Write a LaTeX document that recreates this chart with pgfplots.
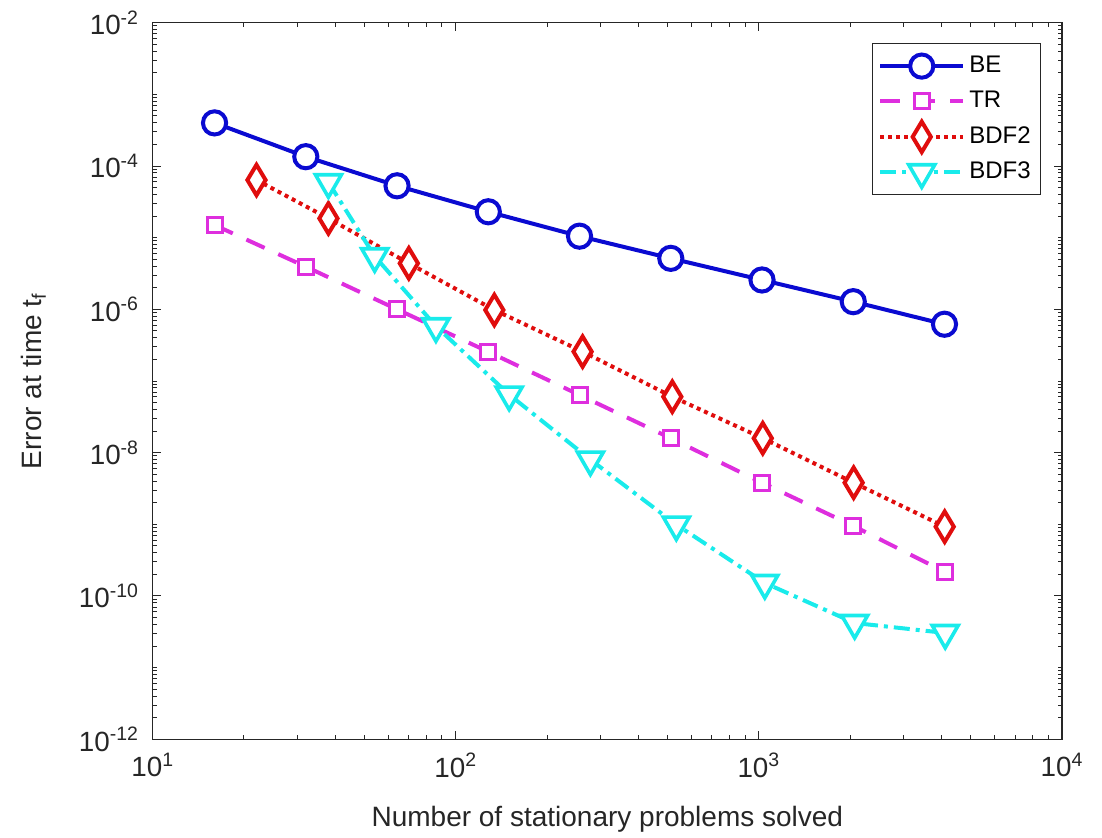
\documentclass[border=0pt]{standalone}
\usepackage{fontspec}
\setmainfont{Liberation Sans}
\usepackage{pgfplots}
\pgfplotsset{compat=1.18}
\definecolor{cBE}{rgb}{0.04,0.04,0.82}
\definecolor{cTR}{rgb}{0.87,0.18,0.87}
\definecolor{cBtwo}{rgb}{0.88,0.05,0.05}
\definecolor{cBthree}{rgb}{0.1,0.92,0.92}
\definecolor{axgray}{rgb}{0.15,0.15,0.15}
\begin{document}
\fontsize{13.9}{16}\selectfont
\begin{tikzpicture}
\begin{axis}[
  name=ax,
  scale only axis,
  width=454.65pt, height=358.3pt,
  xmode=log, ymode=log,
  log basis x=10, log basis y=10,
  xmin=10, xmax=10000, ymin=1e-12, ymax=1e-2,
  xtick={10,100,1000,10000},
  xticklabels={10\textsuperscript{1},10\textsuperscript{2},10\textsuperscript{3},10\textsuperscript{4}},
  ytick={1e-12,1e-10,1e-8,1e-6,1e-4,1e-2},
  yticklabels={10\textsuperscript{-12},10\textsuperscript{-10},10\textsuperscript{-8},10\textsuperscript{-6},10\textsuperscript{-4},10\textsuperscript{-2}},
  minor xtick={20,30,40,50,60,70,80,90,200,300,400,500,600,700,800,900,2000,3000,4000,5000,6000,7000,8000,9000},
  minor ytick={2e-12,3e-12,4e-12,5e-12,6e-12,7e-12,8e-12,9e-12,1e-11,2e-11,3e-11,4e-11,5e-11,6e-11,7e-11,8e-11,9e-11,
    2e-10,3e-10,4e-10,5e-10,6e-10,7e-10,8e-10,9e-10,1e-9,2e-9,3e-9,4e-9,5e-9,6e-9,7e-9,8e-9,9e-9,
    2e-8,3e-8,4e-8,5e-8,6e-8,7e-8,8e-8,9e-8,1e-7,2e-7,3e-7,4e-7,5e-7,6e-7,7e-7,8e-7,9e-7,
    2e-6,3e-6,4e-6,5e-6,6e-6,7e-6,8e-6,9e-6,1e-5,2e-5,3e-5,4e-5,5e-5,6e-5,7e-5,8e-5,9e-5,
    2e-4,3e-4,4e-4,5e-4,6e-4,7e-4,8e-4,9e-4,1e-3,2e-3,3e-3,4e-3,5e-3,6e-3,7e-3,8e-3,9e-3},
  tick align=inside,
  major tick length=4pt, minor tick length=2pt,
  every tick/.style={axgray, line width=0.5pt},
  axis line style={axgray, line width=0.6pt},
  ticklabel style={font=\fontsize{13.9}{16}\selectfont, text=axgray},
  xticklabel style={yshift=-2pt},
  yticklabel style={xshift=-2pt},
  xlabel={Number of stationary problems solved},
  ylabel={Error at time t\textsubscript{f}},
  xlabel style={at={(axis description cs:0.5,-0.112)}, anchor=center, font=\fontsize{14}{17}\selectfont, text=axgray},
  ylabel style={at={(axis description cs:-0.131,0.5)}, anchor=center, font=\fontsize{14}{17}\selectfont, text=axgray},
  legend style={at={(rel axis cs:0.977,0.971)}, anchor=north east, draw=axgray, line width=0.5pt,
    font=\fontsize{12}{14}\selectfont, inner xsep=3pt, inner ysep=2.2pt,
    nodes={text height=9pt, text depth=2.5pt, inner ysep=3.1pt}, row sep=0pt},
  legend cell align=left,
  legend image code/.code={\draw[mark repeat=2,mark phase=2] plot coordinates {(0pt,0pt)(20.75pt,0pt)(41.5pt,0pt)};},
]
\addplot[cBE, line width=2pt, mark=*, mark size=5.8pt, mark options={fill=white, solid, line width=2pt}]
  coordinates {(16,4.0e-4)(32,1.35e-4)(64,5.3e-5)(128,2.3e-5)(256,1.05e-5)(512,5.15e-6)(1024,2.57e-6)(2048,1.28e-6)(4096,6.2e-7)};
\addlegendentry{BE}
\addplot[cTR, line width=2pt, dash pattern=on 10pt off 7.5pt, mark=square*, mark size=3.75pt, mark options={fill=white, solid, line width=1.5pt}]
  coordinates {(16,1.5e-5)(32,3.94e-6)(64,1.0e-6)(128,2.56e-7)(256,6.38e-8)(512,1.59e-8)(1024,3.81e-9)(2048,9.5e-10)(4096,2.18e-10)};
\addlegendentry{TR}
\addplot[cBtwo, line width=2pt, dash pattern=on 2pt off 2pt, mark=diamond*, mark size=7.6pt, mark options={fill=white, solid, line width=2pt, xscale=0.8}]
  coordinates {(22,6.38e-5)(38,1.86e-5)(70,4.39e-6)(134,9.8e-7)(262,2.57e-7)(518,6.04e-8)(1030,1.59e-8)(2054,3.81e-9)(4102,9.27e-10)};
\addlegendentry{BDF2}
\addplot[cBthree, line width=2pt, dash pattern=on 8pt off 3pt on 2pt off 3pt, mark=triangle*, mark size=7.5pt, mark options={fill=white, solid, line width=1.8pt, rotate=180}]
  coordinates {(38,5.94e-5)(54,5.51e-6)(86,5.81e-7)(150,6.46e-8)(278,8.0e-9)(534,9.9e-10)(1046,1.52e-10)(2070,4.2e-11)(4118,3.05e-11)};
\addlegendentry{BDF3}
\end{axis}
\pgfresetboundingbox
\path ([shift={(-76.35pt,-48.85pt)}]ax.south west) rectangle ([shift={(20pt,11.35pt)}]ax.north east);
\end{tikzpicture}
\end{document}
